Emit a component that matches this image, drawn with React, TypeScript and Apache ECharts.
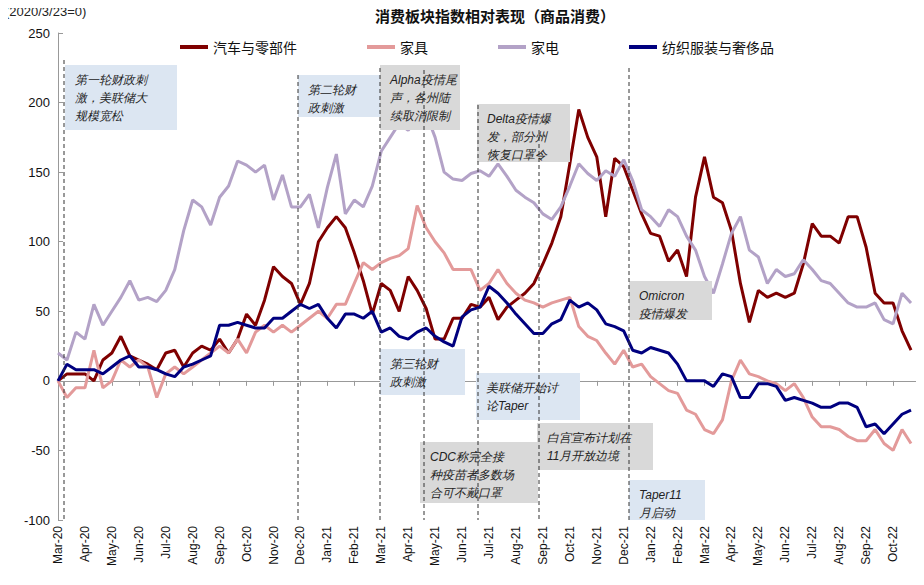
import React, { useEffect, useRef } from "react";
import * as echarts from "echarts";

// month labels, each month split into three points (1st, 11th, 21st)
const months = [
  "Mar-20","Apr-20","May-20","Jun-20","Jul-20","Aug-20","Sep-20","Oct-20","Nov-20","Dec-20",
  "Jan-21","Feb-21","Mar-21","Apr-21","May-21","Jun-21","Jul-21","Aug-21","Sep-21","Oct-21","Nov-21","Dec-21",
  "Jan-22","Feb-22","Mar-22","Apr-22","May-22","Jun-22","Jul-22","Aug-22","Sep-22","Oct-22",
];
const categories: string[] = [];
months.forEach((m) => { categories.push(m, m + " ", m + "  "); });
categories.push("Nov-22");

const auto = [
  0,5,5, 5,0,15, 20,32,18, 15,12,8, 20,22,10, 20,25,22, 30,20,30, 48,40,58, 82,75,70,
  55,70,100, 110,118,110, 92,72,48, 70,65,50, 75,65,52, 30,30,45, 45,55,
  53,60,44, 53,58,63, 70,84,99, 118,156,195, 175,161,118, 160,154,137,
  120,106,104, 86,94,75, 132,161,132, 128,108,70, 42,65,60, 63,60,63,
  84,113,104, 104,99,118, 118,96,63, 56,56,36, 22,
];
const furniture = [
  0,-12,-5, -5,22,-5, 0,15,10, 15,10,-12, 5,10,5, 10,15,20, 25,20,30, 20,35,40, 35,40,35,
  40,45,50, 45,55,55, 70,85,80, 85,88,90, 95,126,110, 100,92,80, 80,80,
  65,70,80, 70,63,58, 56,53,56, 58,60,39, 32,29,20, 12,22,10,
  12,3,-2, -7,-9,-21, -24,-35,-38, -28,0,15, 5,3,0, -2,-7,-2,
  -12,-26,-33, -33,-35,-40, -43,-43,-35, -45,-50,-35, -45,
];
const appliance = [
  20,15,35, 30,55,40, 50,60,72, 58,60,57, 65,80,108, 130,125,112, 132,140,158, 155,150,155,
  130,148,125, 125,134,110, 139,163,120, 130,125,140, 165,175,185, 180,188,192, 175,150,145, 144,149,
  151,147,156, 147,137,132, 128,120,116, 125,140,156, 149,144,151, 147,159,144,
  123,118,111, 123,118,104, 94,75,63, 84,106,118, 94,89,70, 80,75,77,
  87,80,72, 70,63,56, 53,53,56, 44,41,63, 56,
];
const textile = [
  0,12,8, 8,8,5, 10,15,18, 10,10,8, 5,3,10, 12,15,18, 40,40,42, 40,38,38, 45,45,50,
  55,52,55, 45,38,48, 48,45,50, 35,38,32, 30,35,38, 32,28,25, 46,51,
  53,68,63, 56,48,41, 34,34,41, 44,58,53, 56,51,41, 39,36,22,
  20,24,22, 20,12,0, 0,0,-4, 5,3,-12, -12,-2,-2, -4,-14,-12,
  -14,-16,-19, -19,-16,-16, -19,-33,-31, -38,-31,-24, -21,
];
const yTicks = [-100, 250, 50];

const seriesDefs = [
  { name: "汽车与零部件", data: auto, color: "#7f0000" },
  { name: "家具", data: furniture, color: "#e39a9a" },
  { name: "家电", data: appliance, color: "#b3a2c7" },
  { name: "纺织服装与奢侈品", data: textile, color: "#00007f" },
];

const notes = [
  { x: 65, y: 65, w: 112, h: 65, bg: "#dce6f2", t: "第一轮财政刺\n激，美联储大\n规模宽松" },
  { x: 298, y: 75, w: 84, h: 42, bg: "#dce6f2", t: "第二轮财\n政刺激" },
  { x: 380, y: 65, w: 80, h: 65, bg: "#d9d9d9", t: "Alpha疫情尾\n声，各州陆\n续取消限制" },
  { x: 477, y: 104, w: 93, h: 58, bg: "#d9d9d9", t: "Delta疫情爆\n发，部分州\n恢复口罩令" },
  { x: 380, y: 349, w: 85, h: 46, bg: "#dce6f2", t: "第三轮财\n政刺激" },
  { x: 476, y: 373, w: 104, h: 47, bg: "#dce6f2", t: "美联储开始讨\n论Taper" },
  { x: 537, y: 423, w: 116, h: 47, bg: "#d9d9d9", t: "白宫宣布计划在\n11月开放边境" },
  { x: 420, y: 442, w: 118, h: 61, bg: "#d9d9d9", t: "CDC称完全接\n种疫苗者多数场\n合可不戴口罩" },
  { x: 629, y: 281, w: 83, h: 39, bg: "#d9d9d9", t: "Omicron\n疫情爆发" },
  { x: 629, y: 480, w: 76, h: 40, bg: "#dce6f2", t: "Taper11\n月启动" },
];
const eventLines = [
  { x: 64, y: 60 }, { x: 298, y: 75 }, { x: 380, y: 68 }, { x: 424, y: 70 },
  { x: 478, y: 105 }, { x: 539, y: 130 }, { x: 629, y: 68 },
];

const App: React.FC = () => {
  const ref = useRef<HTMLDivElement>(null);

  useEffect(() => {
    if (!ref.current) return;
    const chart = echarts.init(ref.current, undefined, { renderer: "svg" });
    const font = "Liberation Sans, Arial, sans-serif";
    const graphics: any[] = [];
    notes.forEach((n) => {
      graphics.push({ type: "rect", shape: { x: n.x, y: n.y, width: n.w, height: n.h }, style: { fill: n.bg }, z: 5 });
    });
    eventLines.forEach((l) => {
      graphics.push({
        type: "line", shape: { x1: l.x, y1: l.y, x2: l.x, y2: 520 },
        style: { stroke: "#333", lineWidth: 1, lineDash: [4, 3] }, z: 6,
      });
    });
    notes.forEach((n) => {
      graphics.push({
        type: "text", x: n.x + 10, y: n.y + 6, z: 7,
        style: { text: n.t, fill: "#222", font: "italic 12px " + font, lineHeight: 18 },
      });
    });
    graphics.push({
      type: "text", x: 5, y: 5,
      style: { text: "(2020/3/23=0)", fill: "#222", font: "13px " + font },
    });

    chart.setOption({
      animation: false,
      title: {
        text: "消费板块指数相对表现（商品消费）", left: 490, top: 3, textAlign: "center",
        textStyle: { fontSize: 15, fontWeight: "bold", color: "#111", fontFamily: "Noto Sans CJK SC" },
      },
      legend: {
        top: 35, left: 175, itemGap: 70, itemWidth: 28, itemHeight: 4, icon: "rect",
        textStyle: { fontSize: 14, color: "#111", fontFamily: "Noto Sans CJK SC" },
      },
      grid: { left: 58, right: 4, top: 33, bottom: 65 },
      xAxis: [
        {
          type: "category", data: categories, boundaryGap: false,
          axisLine: { onZero: true, lineStyle: { color: "#999" } },
          axisTick: { interval: (i: number) => i % 3 === 0, lineStyle: { color: "#999" } },
          axisLabel: { show: false },
        },
        {
          type: "category", data: categories, boundaryGap: false, position: "bottom",
          axisLine: { show: false }, axisTick: { show: false },
          axisLabel: {
            interval: 0, rotate: 90, fontSize: 12, color: "#111", fontFamily: font, margin: 6,
            formatter: (v: string, i: number) => (i % 3 === 0 && i < 96 ? v.trim() : ""),
          },
        },
      ],
      yAxis: {
        type: "value", min: yTicks[0], max: yTicks[1], interval: yTicks[2],
        splitLine: { show: false },
        axisLine: { show: true, lineStyle: { color: "#999" } },
        axisTick: { show: true, inside: true, lineStyle: { color: "#999" } },
        axisLabel: { fontSize: 13, color: "#111", fontFamily: font },
      },
      series: seriesDefs.map((s) => ({
        name: s.name, type: "line", data: s.data, xAxisIndex: 0, showSymbol: false,
        lineStyle: { width: 3, color: s.color }, itemStyle: { color: s.color },
      })),
      graphic: graphics,
    });
    return () => chart.dispose();
  }, []);

  return <div ref={ref} style={{ width: 924, height: 585, margin: "-8px 0 0 -8px" }} />;
};

export default App;
